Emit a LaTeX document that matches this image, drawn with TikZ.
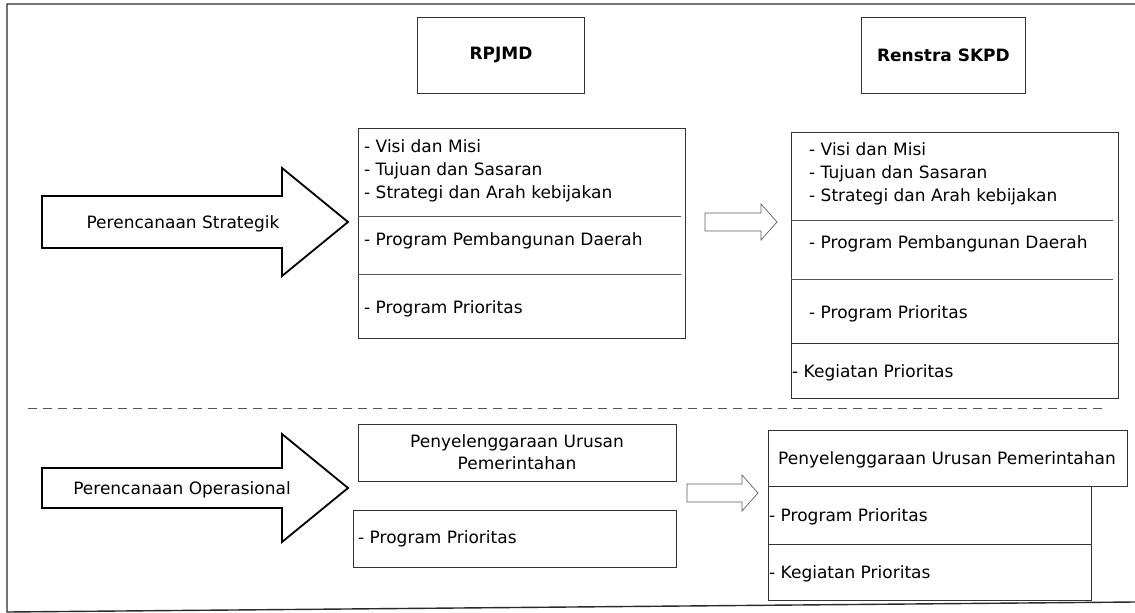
\documentclass[tikz,border=0pt]{standalone}
\usepackage{fontspec}
\setmainfont{DejaVu Sans}
\usetikzlibrary{positioning}

\definecolor{framegray}{HTML}{2A2A2A}
\definecolor{boxgray}{HTML}{333333}
\definecolor{linegray}{HTML}{555555}
\definecolor{arrowgray}{HTML}{606060}

\tikzset{
  box/.style={draw=boxgray, line width=0.9pt, inner sep=0pt, anchor=north west},
  txt/.style={inner sep=0pt, anchor=base west, font=\fontsize{17}{23}\selectfont},
  ctxt/.style={inner sep=0pt, anchor=base, font=\fontsize{17}{23}\selectfont},
  head/.style={inner sep=0pt, font=\fontsize{17}{23}\selectfont\bfseries},
  divider/.style={draw=linegray, line width=0.8pt},
  bigarrow/.style={draw=black, line width=1.8pt, fill=white, line join=miter},
  smallarrow/.style={draw=arrowgray, line width=0.7pt, fill=white},
}

\begin{document}
\begin{tikzpicture}[x=1pt, y=-1pt]
  \useasboundingbox (0,0) rectangle (1135,613);
  % frame and separator
  \draw[framegray, line width=1.4pt] (1135,4) -- (7,4) -- (7,612) -- (1135,602);
  \draw[linegray, line width=0.9pt, dash pattern=on 9pt off 6pt] (28,408) -- (1107,408);

  % headers
  \node[box, minimum width=167pt, minimum height=76pt] (rp) at (417,17) {};
  \node[head] (rplabel) at (rp.center) {RPJMD};
  \node[box, minimum width=164pt, minimum height=76pt] (rs) at (861,17) {};
  \node[head] (rslabel) at (rs.center) {Renstra SKPD};

  % big arrows
  \draw[bigarrow] (42,196) -- (282,196) -- (282,168) -- (348,222)
    -- (282,276) -- (282,248) -- (42,248) -- cycle;
  \node[ctxt] (strat) at (183,228) {Perencanaan Strategik};
  \draw[bigarrow] (42,468) -- (282,468) -- (282,434) -- (348,488)
    -- (282,542) -- (282,508) -- (42,508) -- cycle;
  \node[ctxt] (oper) at (182,494) {Perencanaan Operasional};

  % RPJMD content
  \node[box, minimum width=327pt, minimum height=210pt] (rpbox) at (358,128) {};
  \draw[divider] (rpbox.west |- 0,216) -- (681,216);
  \draw[divider] (rpbox.west |- 0,274) -- (681,274);
  \node[txt] (rp1) at (364,152) {- Visi dan Misi};
  \node[txt] (rp2) at (364,175) {- Tujuan dan Sasaran};
  \node[txt] (rp3) at (364,198) {- Strategi dan Arah kebijakan};
  \node[txt] (rp4) at (364,245) {- Program Pembangunan Daerah};
  \node[txt] (rp5) at (364,313) {- Program Prioritas};

  % Renstra content
  \node[box, minimum width=327pt, minimum height=266pt] (rsbox) at (791,132) {};
  \draw[divider] (rsbox.west |- 0,220) -- (1113,220);
  \draw[divider] (rsbox.west |- 0,279) -- (1113,279);
  \draw[boxgray, line width=1pt] (rsbox.west |- 0,343) -- (rsbox.east |- 0,343);
  \node[txt] (rs1) at (809,155) {- Visi dan Misi};
  \node[txt] (rs2) at (809,178) {- Tujuan dan Sasaran};
  \node[txt] (rs3) at (809,201) {- Strategi dan Arah kebijakan};
  \node[txt] (rs4) at (809,248) {- Program Pembangunan Daerah};
  \node[txt] (rs5) at (809,318) {- Program Prioritas};
  \node[txt] (rs6) at (792,377) {- Kegiatan Prioritas};

  % small arrows
  \draw[smallarrow] (705,213) -- (761,213) -- (761,204) -- (777,222)
    -- (761,240) -- (761,231) -- (705,231) -- cycle;
  \draw[smallarrow] (687,484) -- (742,484) -- (742,475) -- (758,493)
    -- (742,511) -- (742,502) -- (687,502) -- cycle;

  % operational, left
  \node[box, minimum width=318pt, minimum height=57pt] (pu1) at (358,424) {};
  \node[ctxt] (pu1a) at (517,447) {Penyelenggaraan Urusan};
  \node[ctxt] (pu1b) at (517,469) {Pemerintahan};
  \node[box, minimum width=323pt, minimum height=57pt] (pp1) at (353,510) {};
  \node[txt] (pp1a) at (358,543) {- Program Prioritas};

  % operational, right
  \node[box, minimum width=359pt, minimum height=56pt] (pu2) at (768,430) {};
  \node[ctxt] (pu2a) at (947,464) {Penyelenggaraan Urusan Pemerintahan};
  \node[box, minimum width=323pt, minimum height=114pt] (pp2) at (768,486) {};
  \draw[boxgray, line width=0.9pt] (pp2.west |- 0,544) -- (pp2.east |- 0,544);
  \node[txt] (pp2a) at (769,521) {- Program Prioritas};
  \node[txt] (pp2b) at (769,578) {- Kegiatan Prioritas};
\end{tikzpicture}
\end{document}
